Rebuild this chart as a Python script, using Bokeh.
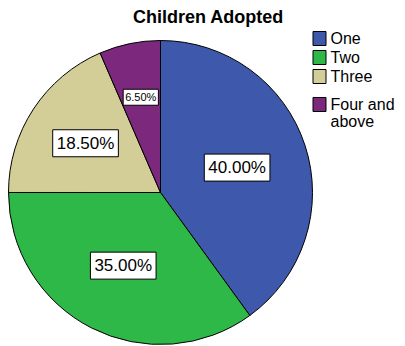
import math
from bokeh.plotting import figure
from bokeh.models import Range1d, Label, ColumnDataSource
from bokeh.core.properties import value
from bokeh.embed import file_html
from bokeh.resources import INLINE

# ---- data ----
categories = ["One", "Two", "Three", "Four and above"]
legend_labels = ["One", "Two", "Three", "Four and\nabove"]
percents = [40.0, 35.0, 18.5, 6.5]
colors = ["#3E58AC", "#2EB848", "#D3CE97", "#7C287D"]
title_text = "Children Adopted"

# ---- layout ----
W, H = 405, 346
CX, CY, R = 160, H - 192, 152
label_frac = [0.53, 0.54, 0.59, 0.64]
label_size = ["17px", "17px", "17px", "11px"]
FONT = "Liberation Sans"

p = figure(width=W, height=H, x_range=Range1d(0, W), y_range=Range1d(0, H),
           output_backend="svg", toolbar_location=None, min_border=0,
           x_axis_type=None, y_axis_type=None)
p.grid.visible = False
p.outline_line_color = None
p.background_fill_color = "white"
p.border_fill_color = "white"

total = sum(percents)
starts, ends, mids = [], [], []
cum = 0.0
for v in percents:
    s = math.pi / 2 - 2 * math.pi * cum / total
    e = math.pi / 2 - 2 * math.pi * (cum + v) / total
    starts.append(s)
    ends.append(e)
    mids.append((s + e) / 2)
    cum += v

src = ColumnDataSource(dict(cat=categories, start=starts, end=ends, color=colors))
p.wedge(x=CX, y=CY, radius=R, start_angle="start", end_angle="end",
        direction="clock", fill_color="color", line_color="black",
        line_width=1, source=src)

for v, m, f, fs in zip(percents, mids, label_frac, label_size):
    lx = CX + f * R * math.cos(m)
    ly = CY + f * R * math.sin(m)
    p.add_layout(Label(x=lx, y=ly, text=f"{v:.2f}%", text_align="center",
                       text_baseline="middle", text_font=FONT, text_font_size=fs,
                       text_color="black", background_fill_color="white",
                       border_line_color="black", border_line_width=1,
                       padding=4 if fs == "17px" else 2))

# title
p.add_layout(Label(x=208, y=H - 16, text=title_text, text_align="center",
                   text_baseline="middle", text_font=FONT, text_font_size="18px",
                   text_font_style="bold", text_color="black"))

# legend (manual)
leg_y = [H - 38, H - 57, H - 76, H - 104]
for lab, c, yy in zip(legend_labels, colors, leg_y):
    p.rect(x=319, y=yy, width=13, height=14, fill_color=c, line_color="black", line_width=1)
    p.add_layout(Label(x=330, y=yy + 9, text=lab, text_align="left", text_baseline="top",
                       text_font=FONT, text_font_size="16px", text_color="black",
                       text_line_height=1.0))

open("out.html", "w").write(file_html(p, INLINE))
